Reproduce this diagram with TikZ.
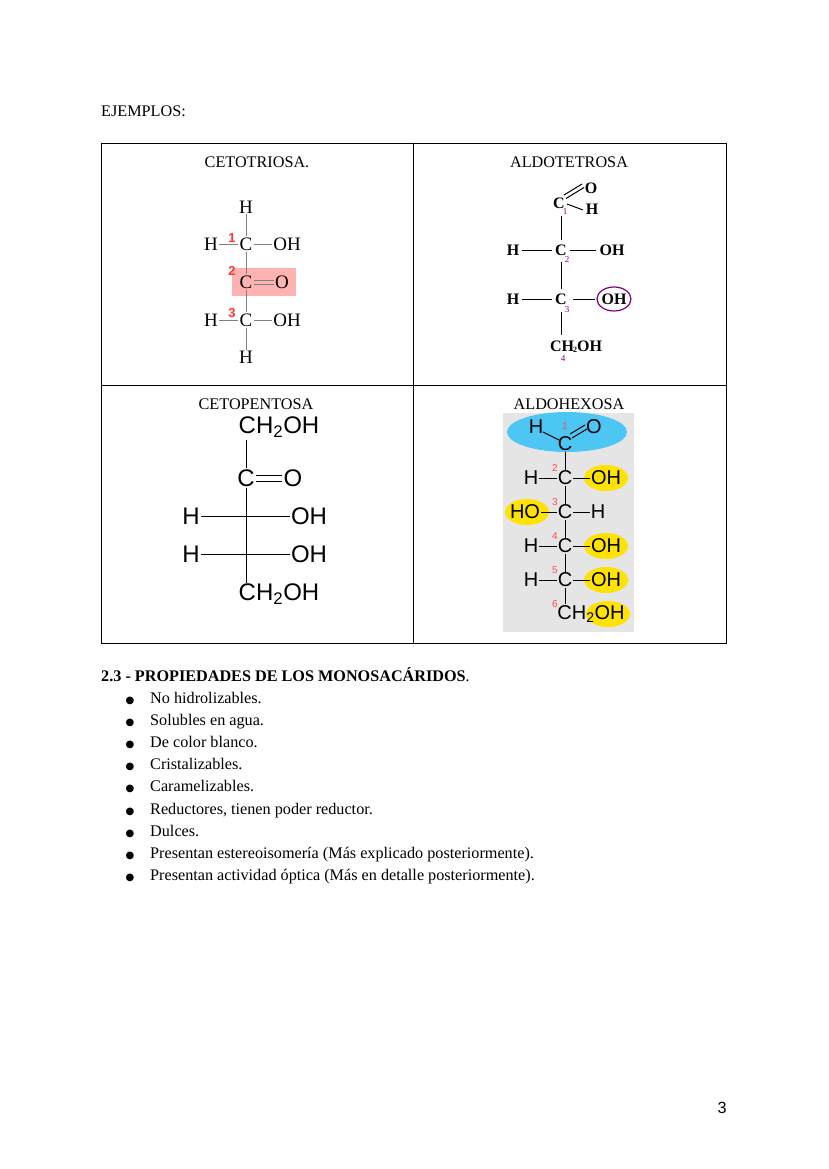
\documentclass[tikz,border=0pt]{standalone}
\usepackage{fontspec}
\setmainfont{Liberation Serif}
\newfontfamily\sansf{Liberation Sans}
\newfontfamily\djv{DejaVu Sans}
\begin{document}
\begin{tikzpicture}[x=1pt,y=-1pt,
 body/.style={font=\fontsize{16.2}{18}\selectfont,inner sep=0pt},
 chem/.style={font=\fontsize{16}{17}\selectfont\bfseries,inner sep=3pt},
 ss/.style={font=\sansf\fontsize{24}{25}\selectfont,inner sep=1pt},
 hx/.style={font=\sansf\fontsize{20}{22}\selectfont,inner sep=1pt},
 rnum/.style={font=\sansf\fontsize{13}{13}\selectfont\bfseries,text=red!80,inner sep=0pt},
 pnum/.style={font=\fontsize{9}{9}\selectfont,text=violet,inner sep=0pt},
 hnum/.style={font=\sansf\fontsize{10}{10}\selectfont,text=red!70,inner sep=0pt},
 bond/.style={line width=1pt},
 gbond/.style={line width=1pt,shorten <=3pt,shorten >=3pt}]
\useasboundingbox (0,0) rectangle (828,1169);
\node[body,anchor=west] (ej) at (101,111) {EJEMPLOS:};
% table
\draw[line width=0.8pt] (101,143) rectangle (726,643);
\draw[line width=0.8pt] (413,143) -- (413,643);
\draw[line width=0.8pt] (101,385) -- (726,385);
\node[body] (t1) at (257,162) {CETOTRIOSA.};
\node[body] (t2) at (569,162) {ALDOTETROSA};
\node[body] (t3) at (256,404) {CETOPENTOSA};
\node[body] (t4) at (569,404) {ALDOHEXOSA};
% cetotriosa
\fill[red!30] (232,268) rectangle (296,296);
\begin{scope}[every node/.style={font=\fontsize{19}{20}\selectfont,inner sep=1pt}]
\node (a0) at (246,207) {H};
\node (a1) at (246,244) {C};
\node (a1h) at (211,244) {H};
\node (a1o) at (287,244) {OH};
\node (a2) at (246,282) {C};
\node (a2o) at (282,282) {O};
\node (a3) at (246,320) {C};
\node (a3h) at (211,320) {H};
\node (a3o) at (287,320) {OH};
\node (a4) at (246,357) {H};
\end{scope}
\draw[bond,gray] (a0)--(a1) (a1)--(a2) (a2)--(a3) (a3)--(a4);
\draw[bond,gray] (a1h)--(a1) (a1)--(a1o) (a3h)--(a3) (a3)--(a3o);
\draw[bond,gray] ([yshift=-2]a2.east)--([yshift=-2]a2o.west) ([yshift=2]a2.east)--([yshift=2]a2o.west);
\node[rnum] at (232,238) {1};
\node[rnum] at (232,271) {2};
\node[rnum] at (232,313) {3};
% aldotetrosa
\begin{scope}[every node/.style={chem}]
\node (b1) at (559,203) {C};
\node (b1o) at (591,188) {O};
\node (b1h) at (592,209) {H};
\node (b2) at (561,250) {C};
\node (b2h) at (513,250) {H};
\node (b2o) at (612,250) {OH};
\node (b3) at (561,299) {C};
\node (b3h) at (513,299) {H};
\node (b3o) at (614,299) {OH};
\node (b4) at (576,347) {CH\kern-1pt\raisebox{-1pt}{\fontsize{8}{8}\selectfont 2}OH};
\end{scope}
\draw[bond] (561,216)--(561,240) (561,262)--(561,289) (561,312)--(561,335);
\draw[gbond] (b2h)--(b2) (b2)--(b2o) (b3h)--(b3) (b3)--(b3o);
\draw[bond] (564,195)--(582,184) (566,198.5)--(584,187.5);
\draw[bond] (567,204)--(583,210);
\draw[violet,line width=1.2pt] (b3o) ellipse (17 and 12);
\node[pnum] at (565,212) {1};
\node[pnum] at (567,260) {2};
\node[pnum] at (567,310) {3};
\node[pnum] at (563,359) {4};
% cetopentosa
\node[ss] (c1) at (279,427) {CH\textsubscript{2}OH};
\node[ss] (c2) at (246,478) {C};
\node[ss] (c2o) at (293,478) {O};
\node[ss] (c3h) at (191,516) {H};
\node[ss] (c3o) at (309,516) {OH};
\node[ss] (c4h) at (191,554) {H};
\node[ss] (c4o) at (309,554) {OH};
\node[ss] (c5) at (279,594) {CH\textsubscript{2}OH};
\coordinate (x3) at (246,516);
\coordinate (x4) at (246,554);
\draw[bond] (246,440)--(c2) (c2)--(x3) (x3)--(x4) (x4)--(c5.north-|x4);
\draw[bond] (c3h)--(c3o) (c4h)--(c4o);
\draw[bond] ([yshift=-3]c2.east)--([yshift=-3]c2o.west) ([yshift=3]c2.east)--([yshift=3]c2o.west);
% aldohexosa
\fill[gray!20] (503,413) rectangle (634,632);
\fill[cyan!70] (567,432) ellipse (60 and 20);
\fill[yellow!85!orange] (606,478) ellipse (22 and 13);
\fill[yellow!85!orange] (527,512) ellipse (22 and 13);
\fill[yellow!85!orange] (606,546) ellipse (22 and 13);
\fill[yellow!85!orange] (606,580) ellipse (22 and 13);
\fill[yellow!85!orange] (608,614) ellipse (22 and 13);
\node[hx] (d1h) at (536,427) {H};
\node[hx] (d1o) at (594,427) {O};
\node[hx] (d1) at (565,444) {C};
\node[hx] (d2) at (565,478) {C};
\node[hx] (d2h) at (531,478) {H};
\node[hx] (d2o) at (606,478) {OH};
\node[hx] (d3) at (565,512) {C};
\node[hx] (d3o) at (525,512) {HO};
\node[hx] (d3h) at (598,512) {H};
\node[hx] (d4) at (565,546) {C};
\node[hx] (d4h) at (531,546) {H};
\node[hx] (d4o) at (606,546) {OH};
\node[hx] (d5) at (565,580) {C};
\node[hx] (d5h) at (531,580) {H};
\node[hx] (d5o) at (606,580) {OH};
\node[hx] (d6) at (591,614) {CH\textsubscript{2}OH};
\draw[bond] (d1)--(d2) (d2)--(d3) (d3)--(d4) (d4)--(d5) (d5)--(d6.north-|d5);
\draw[bond] (d2h)--(d2) (d2)--(d2o) (d3o)--(d3) (d3)--(d3h) (d4h)--(d4) (d4)--(d4o) (d5h)--(d5) (d5)--(d5o);
\draw[bond] (543,432)--(559,440);
\draw[bond] (570,434)--(585,425) (572,438)--(587,429);
\node[hnum] at (565,426) {1};
\node[hnum] at (555,468) {2};
\node[hnum] at (555,502) {3};
\node[hnum] at (555,536) {4};
\node[hnum] at (555,570) {5};
\node[hnum] at (555,604) {6};
% properties
\node[body,anchor=base west] (h) at (101,681) {\textbf{2.3 - PROPIEDADES DE LOS MONOSACÁRIDOS}.};
\foreach \t [count=\i from 0] in {No hidrolizables.,Solubles en agua.,De color blanco.,Cristalizables.,Caramelizables.,{Reductores, tienen poder reductor.},Dulces.,Presentan estereoisomería (Más explicado posteriormente).,Presentan actividad óptica (Más en detalle posteriormente).}{
 \node[body,anchor=base] (b\i) at (130,703+22.2*\i) {\djv\fontsize{10}{10}\selectfont ●};
 \node[body,anchor=base west] (l\i) at (150,703+22.2*\i) {\t};
}
\node[body] (pg) at (722,1108) {\sansf 3};
\end{tikzpicture}
\end{document}
